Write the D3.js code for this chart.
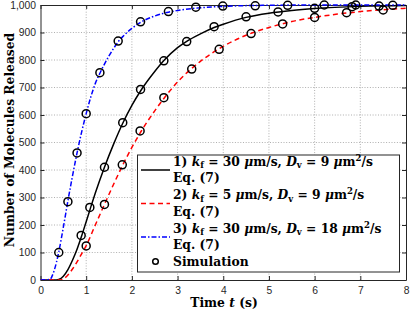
<!DOCTYPE html>
<html>
<head>
<meta charset="utf-8">
<script src="https://cdn.jsdelivr.net/npm/d3@7"></script>
<style>
body { margin: 0; background: #fff; }
svg { display: block; }
</style>
</head>
<body>
<script>
var width = 415, height = 312;
var margin = { left: 40.5, right: 9, top: 5, bottom: 32 };

var xTicks = [0, 1, 2, 3, 4, 5, 6, 7, 8];
var yTicks = [0, 100, 200, 300, 400, 500, 600, 700, 800, 900, 1000];

// curves (Eq. 7)
var curveT1 = [0, 0.35, 0.4, 0.5, 0.6, 0.7, 0.8, 0.9, 1.0, 1.1, 1.2, 1.4, 1.6, 1.8, 2.0, 2.2, 2.5, 2.7, 3.0, 3.2, 3.5, 3.8, 4.0, 4.5, 5.0, 5.5, 6.0, 7.0, 8.0];
var curveY1 = [0, 0, 2, 14, 38, 72, 112, 160, 212, 265, 316, 410, 494, 570, 635, 690, 758, 798, 845, 868, 895, 918, 930, 955, 970, 980, 987, 995, 998];
var curveT2 = [0, 0.42, 0.5, 0.6, 0.7, 0.8, 0.9, 1.0, 1.2, 1.4, 1.6, 1.8, 2.0, 2.2, 2.5, 2.7, 3.0, 3.3, 3.5, 3.9, 4.5, 5.0, 5.5, 6.0, 6.5, 7.0, 7.5, 8.0];
var curveY2 = [0, 0, 4, 18, 40, 66, 95, 125, 200, 275, 348, 418, 482, 540, 615, 660, 720, 768, 795, 840, 890, 918, 940, 955, 967, 976, 983, 988];
var curveT3 = [0, 0.2, 0.3, 0.4, 0.5, 0.6, 0.7, 0.8, 0.9, 1.0, 1.1, 1.2, 1.3, 1.4, 1.6, 1.7, 1.8, 2.0, 2.2, 2.5, 2.8, 3.0, 3.5, 4.0, 5.0, 6.0, 8.0];
var curveY3 = [0, 2, 35, 102, 192, 288, 378, 462, 538, 605, 665, 715, 752, 785, 842, 866, 885, 915, 938, 960, 974, 980, 990, 995, 999, 1000, 1000];

// simulation points
var simT1 = [0.89, 1.08, 1.4, 1.8, 2.19, 2.7, 3.2, 3.8, 4.5, 5.2, 6.0, 6.82, 7.41];
var simY1 = [162, 264, 410, 572, 693, 797, 867, 921, 957, 975, 988, 994, 996];
var simT2 = [1.0, 1.4, 1.79, 2.18, 2.7, 3.31, 3.91, 4.61, 5.3, 6.0, 6.7, 7.5];
var simY2 = [124, 275, 419, 542, 663, 767, 839, 896, 931, 955, 972, 982];
var simT3 = [0.4, 0.6, 0.8, 1.0, 1.3, 1.7, 2.19, 2.8, 3.4, 3.99, 4.7, 5.41, 6.21, 6.9, 7.71];
var simY3 = [100, 285, 462, 605, 754, 869, 939, 976, 992, 996, 997, 999, 1000, 1000, 999];

var svg = d3.select("body").append("svg")
	.attr("width", width)
	.attr("height", height);

var x = d3.scaleLinear().domain([0, 8]).range([margin.left, width - margin.right]);
var y = d3.scaleLinear().domain([0, 1000]).range([height - margin.bottom, margin.top]);

var axisColor = "#262626";
var tickFont = "'Liberation Sans', Arial, sans-serif";
var serif = "'DejaVu Serif', serif";
var labelSize = "12.3px";

// grid
svg.append("g").selectAll("line").data(xTicks.slice(1, -1)).enter().append("line")
	.attr("x1", function(d) { return x(d); }).attr("x2", function(d) { return x(d); })
	.attr("y1", y(0)).attr("y2", y(1000))
	.attr("stroke", "#9a9a9a").attr("stroke-width", 0.8).attr("stroke-dasharray", "1,1.7");
svg.append("g").selectAll("line").data(yTicks.slice(1, -1)).enter().append("line")
	.attr("x1", x(0)).attr("x2", x(8))
	.attr("y1", function(d) { return y(d); }).attr("y2", function(d) { return y(d); })
	.attr("stroke", "#9a9a9a").attr("stroke-width", 0.8).attr("stroke-dasharray", "1,1.7");

// axes
function styleAxis(g) {
	g.select(".domain").attr("stroke", axisColor);
	g.selectAll(".tick line").attr("stroke", axisColor);
	g.selectAll(".tick text").attr("fill", axisColor).attr("font-family", tickFont).attr("font-size", "10.3px");
}
svg.append("g").attr("transform", "translate(0," + y(0) + ")")
	.call(d3.axisBottom(x).tickValues(xTicks).tickSizeInner(-4).tickSizeOuter(0).tickPadding(7))
	.call(styleAxis);
svg.append("g").attr("transform", "translate(0," + y(1000) + ")")
	.call(d3.axisTop(x).tickValues(xTicks).tickSizeInner(-4).tickSizeOuter(0).tickFormat(""))
	.call(styleAxis);
svg.append("g").attr("transform", "translate(" + x(0) + ",0)")
	.call(d3.axisLeft(y).tickValues(yTicks).tickSizeInner(-4).tickSizeOuter(0).tickPadding(4.5))
	.call(styleAxis);
svg.append("g").attr("transform", "translate(" + x(8) + ",0)")
	.call(d3.axisRight(y).tickValues(yTicks).tickSizeInner(-4).tickSizeOuter(0).tickFormat(""))
	.call(styleAxis);

// curves
var line = d3.line()
	.x(function(d) { return x(d[0]); })
	.y(function(d) { return y(d[1]); })
	.curve(d3.curveMonotoneX);

svg.append("clipPath").attr("id", "clip").append("rect")
	.attr("x", x(0)).attr("y", y(1000) - 1).attr("width", x(8) - x(0)).attr("height", y(0) - y(1000) + 1);

var series = [
	{ t: curveT1, v: curveY1, color: "#000000", dash: null },
	{ t: curveT2, v: curveY2, color: "#ff0000", dash: "5,3.5" },
	{ t: curveT3, v: curveY3, color: "#0000ff", dash: "5,2,1.5,2" }
];

var plotG = svg.append("g").attr("clip-path", "url(#clip)");
series.forEach(function(s) {
	plotG.append("path")
		.datum(d3.zip(s.t, s.v))
		.attr("d", line)
		.attr("fill", "none")
		.attr("stroke", s.color)
		.attr("stroke-width", 1.5)
		.attr("stroke-dasharray", s.dash);
});

var sims = [d3.zip(simT1, simY1), d3.zip(simT2, simY2), d3.zip(simT3, simY3)];
sims.forEach(function(pts) {
	svg.append("g").selectAll("circle").data(pts).enter().append("circle")
		.attr("cx", function(d) { return x(d[0]); })
		.attr("cy", function(d) { return y(d[1]); })
		.attr("r", 4)
		.attr("fill", "none")
		.attr("stroke", "#000")
		.attr("stroke-width", 1.5);
});

// axis labels
svg.append("text")
	.attr("x", 224)
	.attr("y", 307)
	.attr("text-anchor", "middle")
	.attr("font-family", serif).attr("font-weight", "bold").attr("font-size", labelSize)
	.html("Time <tspan font-style='italic'>t</tspan> (s)");

svg.append("text")
	.attr("transform", "translate(14,140) rotate(-90)")
	.attr("text-anchor", "middle")
	.attr("font-family", serif).attr("font-weight", "bold").attr("font-size", labelSize)
	.text("Number of Molecules Released");

// legend
var lg = svg.append("g");
lg.append("rect")
	.attr("x", 137.5).attr("y", 155).attr("width", 262).attr("height", 117)
	.attr("fill", "#fff").attr("stroke", axisColor).attr("stroke-width", 1);

var legendLabels = [
	{ kf: "30", dv: "9" },
	{ kf: "5", dv: "9" },
	{ kf: "30", dv: "18" }
];
var rowH = 16.75;
var firstBase = 165.5;
legendLabels.forEach(function(lab, i) {
	var base = firstBase + i * 2 * rowH;
	var s = series[i];
	lg.append("line")
		.attr("x1", 141).attr("x2", 170)
		.attr("y1", base + 4.5).attr("y2", base + 4.5)
		.attr("stroke", s.color).attr("stroke-width", 1.5)
		.attr("stroke-dasharray", s.dash);
	var t = lg.append("text")
		.attr("x", 173).attr("y", base)
		.attr("font-family", serif).attr("font-weight", "bold").attr("font-size", labelSize);
	t.append("tspan").text((i + 1) + ") ");
	t.append("tspan").attr("font-style", "italic").text("k");
	t.append("tspan").attr("font-size", "8.5px").attr("dy", 2.5).text("f");
	t.append("tspan").attr("dy", -2.5).text(" = " + lab.kf + " ");
	t.append("tspan").attr("font-style", "italic").text("\u03bc");
	t.append("tspan").text("m/s, ");
	t.append("tspan").attr("font-style", "italic").text("D");
	t.append("tspan").attr("font-size", "8.5px").attr("dy", 2.5).text("v");
	t.append("tspan").attr("dy", -2.5).text(" = " + lab.dv + " ");
	t.append("tspan").attr("font-style", "italic").text("\u03bc");
	t.append("tspan").text("m");
	t.append("tspan").attr("font-size", "8.5px").attr("dy", -5).text("2");
	t.append("tspan").attr("dy", 5).text("/s");
	lg.append("text")
		.attr("x", 173).attr("y", base + rowH)
		.attr("font-family", serif).attr("font-weight", "bold").attr("font-size", labelSize)
		.text("Eq.  (7)");
});
var simBase = firstBase + 6 * rowH;
lg.append("circle")
	.attr("cx", 155.5).attr("cy", simBase - 4.5).attr("r", 2.8)
	.attr("fill", "none").attr("stroke", "#000").attr("stroke-width", 1.5);
lg.append("text")
	.attr("x", 173).attr("y", simBase)
	.attr("font-family", serif).attr("font-weight", "bold").attr("font-size", labelSize)
	.text("Simulation");
</script>
</body>
</html>
